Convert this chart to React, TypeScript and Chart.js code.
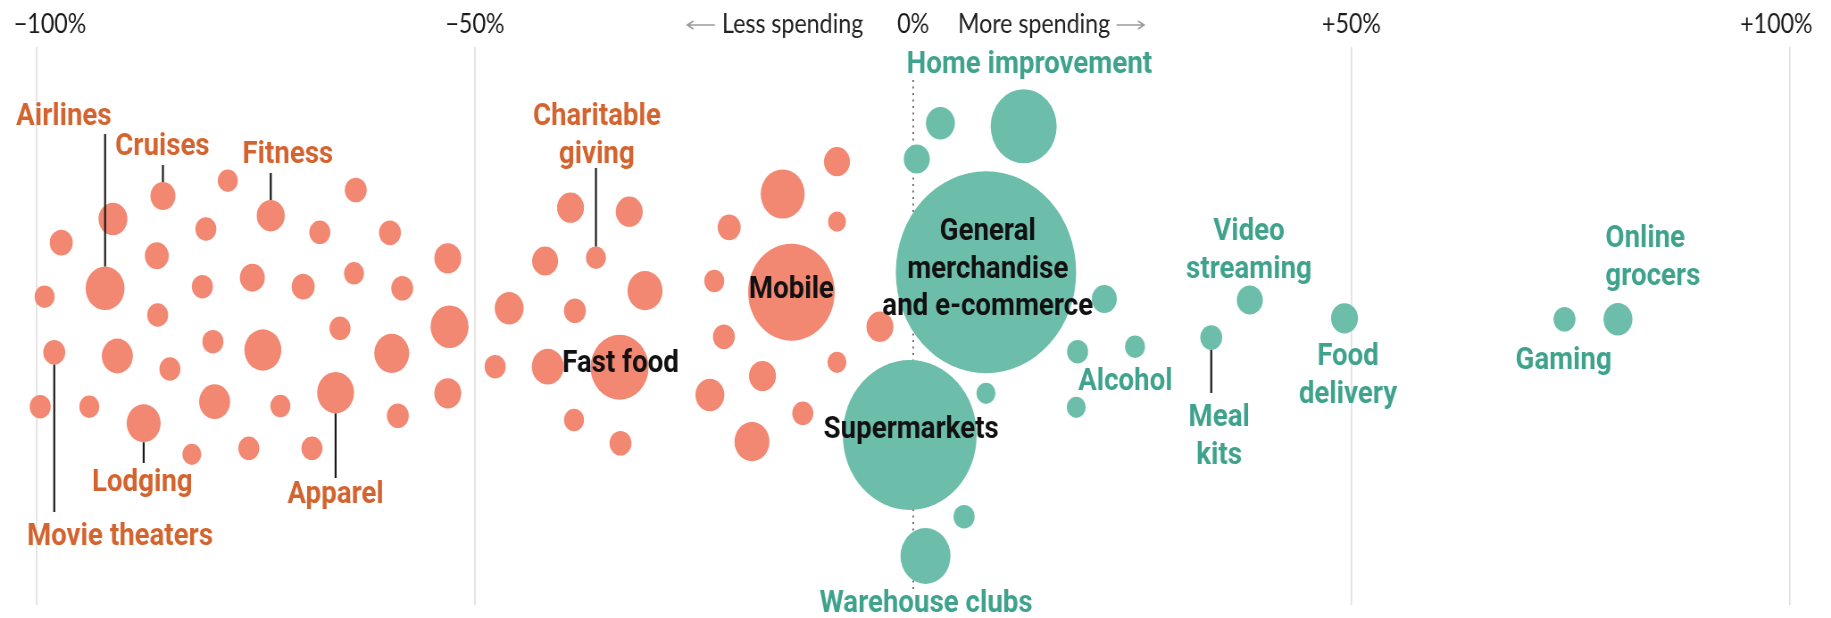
import React, { useEffect, useRef } from "react";
import { Chart, registerables } from "chart.js";

Chart.register(...registerables);

// ---- Data (percent change in spending, swarm offset, bubble size) ----
const declineNames = [
  "", "", "Movie theaters", "", "", "Airlines", "", "", "Lodging", "",
  "", "Cruises", "", "", "", "", "", "", "", "",
  "", "", "Fitness", "", "", "", "", "Apparel", "", "",
  "", "", "", "", "", "", "", "", "", "",
  "", "", "", "", "", "Charitable giving", "Fast food", "", "", "",
  "", "", "", "", "", "", "", "Mobile", "", "",
  "", "", "",
];
const declineChange = [
  -99.6, -99.1, -98.0, -97.2, -94.0, -92.2, -91.3, -90.8, -87.8, -86.3,
  -86.2, -85.6, -84.8, -82.3, -81.1, -80.7, -79.9, -79.7, -78.2, -75.8,
  -75.4, -74.2, -73.3, -72.2, -69.6, -68.6, -67.7, -65.9, -65.4, -63.8,
  -63.6, -59.7, -59.5, -58.8, -58.3, -53.1, -52.9, -53.1, -47.7, -46.1,
  -42.0, -41.7, -39.1, -38.6, -38.7, -36.2, -33.5, -33.4, -32.4, -30.6,
  -23.2, -22.7, -21.6, -21.0, -18.4, -17.2, -14.9, -13.9, -12.6, -8.7,
  -8.7, -8.7, -3.8,
];
const declineOffset = [
  -80.7, 29.3, -26.3, 83.3, -80.7, 37.7, 107, -30, -97.3, 70.3,
  11, 130, -43, -128.3, 39.3, 97, -15.7, -75.7, 145.3, -122.3,
  48.3, -24, 110.3, -80, 39.3, -122.3, 93.7, -66.7, -2.3, 52.7,
  136, 93.3, -27.3, -89.7, 37.7, 67.7, -0.7, -67.3, -40.7, 17.7,
  65, -40.7, 118.3, 15.3, -94, 68.3, -41.3, -117.3, 114.3, 35.3,
  -69, 45, -10.7, 98.7, -115.7, -50, 132, 33.7, -87.3, 164.3,
  104.3, -36.3, -0.7,
];
const declineSize = [
  11.8, 11.2, 12.3, 12.9, 11.2, 21.8, 16.2, 17.4, 19, 13.4,
  11.8, 14, 11.8, 10.6, 11.8, 11.8, 11.8, 17.4, 11.2, 11.8,
  14, 20.7, 15.7, 11.2, 12.9, 11.8, 11.8, 20.7, 11.8, 11.2,
  12.3, 12.3, 19.6, 12.3, 12.3, 15.1, 21.3, 15.1, 11.8, 16.2,
  14.6, 17.9, 15.1, 12.3, 11.2, 11.2, 32.5, 12.3, 15.1, 19.6,
  16.2, 11.2, 12.3, 12.9, 19.6, 15.1, 24.6, 48.5, 11.8, 14.6,
  10.1, 10.6, 15.1,
];

const growthNames = [
  "", "", "Home improvement", "General merchandise and e-commerce", "Supermarkets",
  "", "", "Warehouse clubs", "", "", "Alcohol", "", "Video streaming", "Meal kits",
  "Food delivery", "Gaming", "Online grocers",
];
const growthChange = [0.4, 3.1, 12.6, 8.3, -0.4, 8.3, 5.8, 1.4, 21.8, 18.75, 25.3, 18.6, 38.4, 34.0, 49.2, 74.3, 80.4];
const growthOffset = [167, 202.7, 199.7, 53.8, -109, -67.3, -190.7, -230, 27, -25.7, -20.7, -81.3, 26, -11.5, 7.7, 6.7, 6.7];
const growthSize = [14.6, 16.2, 37, 101, 75, 10.6, 11.8, 28, 14, 11.8, 11.2, 10.6, 14.6, 12.3, 15.1, 12.3, 16.2];

const tickValues = [-100, -50, 0, 50, 100];
const tickLabels = ["\u2212100%", "\u221250%", "0%", "+50%", "+100%"];

// ---- Styling / annotation config ----
const COLORS = {
  declineFill: "#F28872",
  growthFill: "#6CBEAA",
  declineText: "#D3642F",
  growthText: "#3FA28D",
  insideText: "#111111",
};

type LabelSpec = {
  name: string;
  lines: string[];
  at: [number, number];
  tone: "decline" | "growth" | "inside";
  leaderEnd?: number;
  align?: CanvasTextAlign;
};

const labelSpecs: LabelSpec[] = [
  { name: "Airlines", lines: ["Airlines"], at: [-96.9, 201], tone: "decline", leaderEnd: 192 },
  { name: "Cruises", lines: ["Cruises"], at: [-85.66, 171], tone: "decline", leaderEnd: 161 },
  { name: "Fitness", lines: ["Fitness"], at: [-71.35, 163], tone: "decline", leaderEnd: 153 },
  { name: "Charitable giving", lines: ["Charitable", "giving"], at: [-36.1, 201], tone: "decline", leaderEnd: 158 },
  { name: "Movie theaters", lines: ["Movie theaters"], at: [-90.5, -219], tone: "decline", leaderEnd: -186 },
  { name: "Lodging", lines: ["Lodging"], at: [-87.95, -165], tone: "decline", leaderEnd: -137 },
  { name: "Apparel", lines: ["Apparel"], at: [-65.9, -177], tone: "decline", leaderEnd: -152 },
  { name: "Mobile", lines: ["Mobile"], at: [-13.9, 28], tone: "inside" },
  { name: "Fast food", lines: ["Fast food"], at: [-33.4, -46], tone: "inside" },
  { name: "General merchandise and e-commerce", lines: ["General", "merchandise", "and e-commerce"], at: [8.5, 86], tone: "inside" },
  { name: "Supermarkets", lines: ["Supermarkets"], at: [-0.24, -112], tone: "inside" },
  { name: "Home improvement", lines: ["Home improvement"], at: [13.25, 253], tone: "growth" },
  { name: "Warehouse clubs", lines: ["Warehouse clubs"], at: [1.46, -286], tone: "growth" },
  { name: "Alcohol", lines: ["Alcohol"], at: [24.2, -64], tone: "growth" },
  { name: "Meal kits", lines: ["Meal", "kits"], at: [34.9, -100], tone: "growth", leaderEnd: -67 },
  { name: "Video streaming", lines: ["Video", "streaming"], at: [38.3, 86], tone: "growth" },
  { name: "Food delivery", lines: ["Food", "delivery"], at: [49.6, -39], tone: "growth" },
  { name: "Gaming", lines: ["Gaming"], at: [74.2, -43], tone: "growth" },
  { name: "Online grocers", lines: ["Online", "grocers"], at: [78.97, 79], tone: "growth", align: "left" },
];

const OUT_W = 1831;
const STRETCH = 1.12;
const CANVAS_W = Math.round(OUT_W * STRETCH);
const CANVAS_H = 618;
const LABEL_FONT = 'bold 31px Roboto, "Liberation Sans", Arial, sans-serif';
const TICK_FONT = '26px Lato, "Liberation Sans", Arial, sans-serif';
const LINE_H = 37.5;

function findBubble(chart: any, name: string) {
  const sets = [declineNames, growthNames];
  for (let d = 0; d < sets.length; d++) {
    const i = sets[d].indexOf(name);
    if (i >= 0) {
      const el = chart.getDatasetMeta(d).data[i];
      const r = d === 0 ? declineSize[i] : growthSize[i];
      return { x: el.x, y: el.y, r };
    }
  }
  return null;
}

const overlayPlugin = {
  id: "swarmOverlay",
  beforeDatasetsDraw(chart: any) {
    const { ctx, chartArea, scales } = chart;
    const xs = scales.x;
    const ys = scales.y;
    ctx.save();
    tickValues.forEach((v) => {
      const px = xs.getPixelForValue(v);
      ctx.beginPath();
      if (v === 0) {
        ctx.setLineDash([2, 4.5]);
        ctx.strokeStyle = "#555";
        ctx.lineWidth = 1.6;
        ctx.moveTo(px, ys.getPixelForValue(246));
        ctx.lineTo(px, ys.getPixelForValue(-264));
      } else {
        ctx.setLineDash([]);
        ctx.strokeStyle = "#e2e2e2";
        ctx.lineWidth = 1.8;
        ctx.moveTo(px, chartArea.top);
        ctx.lineTo(px, chartArea.bottom);
      }
      ctx.stroke();
    });
    ctx.restore();
  },
  afterDatasetsDraw(chart: any) {
    const { ctx, chartArea, scales } = chart;
    const xs = scales.x;
    const ys = scales.y;
    ctx.save();

    // leaders
    ctx.strokeStyle = "#1a1a1a";
    ctx.lineWidth = 2.2;
    labelSpecs.forEach((s) => {
      if (s.leaderEnd === undefined) return;
      const b = findBubble(chart, s.name);
      if (!b) return;
      const endY = ys.getPixelForValue(s.leaderEnd);
      const startY = endY < b.y ? b.y - b.r : b.y + b.r;
      ctx.beginPath();
      ctx.moveTo(b.x, startY);
      ctx.lineTo(b.x, endY);
      ctx.stroke();
    });

    // labels
    ctx.font = LABEL_FONT;
    ctx.textBaseline = "alphabetic";
    labelSpecs.forEach((s) => {
      ctx.fillStyle =
        s.tone === "decline" ? COLORS.declineText : s.tone === "growth" ? COLORS.growthText : COLORS.insideText;
      ctx.textAlign = s.align || "center";
      const px = xs.getPixelForValue(s.at[0]);
      const py = ys.getPixelForValue(s.at[1]);
      s.lines.forEach((line, i) => ctx.fillText(line, px, py + i * LINE_H));
    });

    // axis tick labels (top)
    const base = chartArea.top - 14;
    ctx.font = TICK_FONT;
    ctx.fillStyle = "#1a1a1a";
    ctx.textAlign = "center";
    tickValues.forEach((v, i) => {
      let px = xs.getPixelForValue(v);
      if (i === 0) px += 15;
      if (i === tickValues.length - 1) px -= 15;
      ctx.fillText(tickLabels[i], px, base);
    });

    const zx = xs.getPixelForValue(0);
    ctx.fillStyle = "#222";
    ctx.textAlign = "right";
    const lessRight = zx - 56;
    ctx.fillText("Less spending", lessRight, base);
    const lessW = ctx.measureText("Less spending").width;
    ctx.textAlign = "left";
    const moreLeft = zx + 50;
    ctx.fillText("More spending", moreLeft, base);
    const moreW = ctx.measureText("More spending").width;

    // arrows
    ctx.strokeStyle = "#9a9a9a";
    ctx.lineWidth = 1.5;
    const ay = base - 8;
    const drawArrow = (x1: number, x2: number, dir: number) => {
      ctx.beginPath();
      ctx.moveTo(x1, ay);
      ctx.lineTo(x2, ay);
      const tip = dir < 0 ? x1 : x2;
      ctx.moveTo(tip - dir * 7, ay - 4);
      ctx.lineTo(tip, ay);
      ctx.lineTo(tip - dir * 7, ay + 4);
      ctx.stroke();
    };
    const lStart = lessRight - lessW - 39;
    drawArrow(lStart, lStart + 31, -1);
    const rStart = moreLeft + moreW + 7;
    drawArrow(rStart, rStart + 31, 1);

    ctx.restore();
  },
};

export default function App() {
  const canvasRef = useRef<HTMLCanvasElement | null>(null);

  useEffect(() => {
    document.body.style.margin = "0";
    document.body.style.overflow = "hidden";
    const canvas = canvasRef.current;
    if (!canvas) return;

    const mk = (xs: number[], ys: number[], rs: number[]) =>
      xs.map((x, i) => ({ x, y: ys[i], r: rs[i] }));

    const chart = new Chart(canvas, {
      type: "bubble",
      data: {
        datasets: [
          {
            label: "Less spending",
            data: mk(declineChange, declineOffset, declineSize),
            backgroundColor: COLORS.declineFill,
            borderWidth: 0,
            hoverRadius: 0,
            clip: false,
          } as any,
          {
            label: "More spending",
            data: mk(growthChange, growthOffset, growthSize),
            backgroundColor: COLORS.growthFill,
            borderWidth: 0,
            hoverRadius: 0,
            clip: false,
          } as any,
        ],
      },
      options: {
        animation: false,
        responsive: false,
        devicePixelRatio: 1,
        events: [],
        layout: {
          autoPadding: false,
          padding: { left: 41.1, right: CANVAS_W - 2004.8, top: 47, bottom: 13 },
        },
        scales: {
          x: { type: "linear", min: -100, max: 100, display: false },
          y: { type: "linear", min: -279, max: 279, display: false },
        },
        plugins: {
          legend: { display: false },
          tooltip: { enabled: false },
        },
      },
      plugins: [overlayPlugin],
    });
    return () => chart.destroy();
  }, []);

  return (
    <div style={{ width: OUT_W, height: CANVAS_H, overflow: "hidden", position: "relative", background: "#fff" }}>
      <div
        style={{
          width: CANVAS_W,
          height: CANVAS_H,
          transform: `scaleX(${OUT_W / CANVAS_W})`,
          transformOrigin: "0 0",
        }}
      >
        <canvas ref={canvasRef} width={CANVAS_W} height={CANVAS_H} style={{ display: "block" }} />
      </div>
    </div>
  );
}
